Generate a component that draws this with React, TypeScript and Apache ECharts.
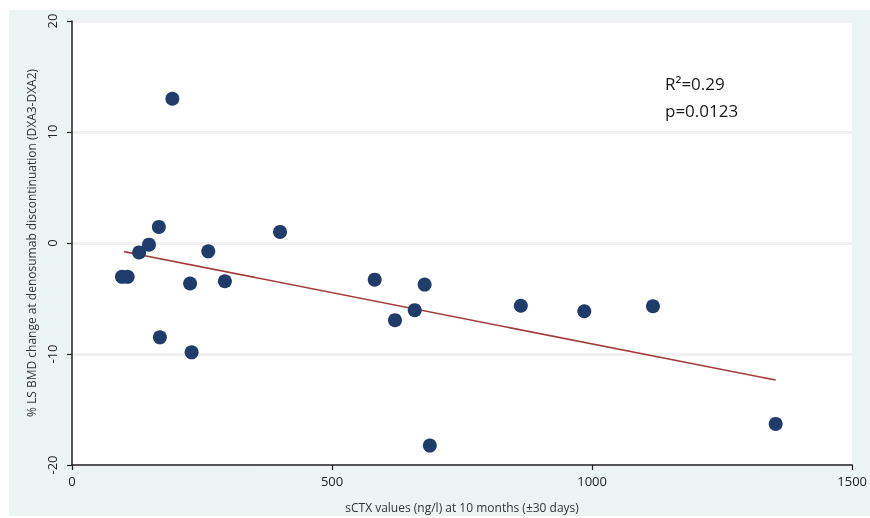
import React, { useEffect, useRef } from "react";
import * as echarts from "echarts";

const sctx: number[] = [96, 107, 129, 148, 167, 169, 193, 227, 230, 262, 294, 400, 582, 621, 659, 678, 688, 863, 985, 1117, 1353];
const bmdChange: number[] = [-3.05, -3.05, -0.85, -0.15, 1.45, -8.5, 13.0, -3.65, -9.85, -0.75, -3.45, 1.0, -3.3, -6.95, -6.05, -3.75, -18.25, -5.65, -6.15, -5.7, -16.3];
const trendX: number[] = [100, 1353];
const trendY: number[] = [-0.78, -12.35];
const xTicks = { min: 0, max: 1500, interval: 500 };
const yTicks = { min: -20, max: 20, interval: 10 };
const statsText = ["R²=0.29", "p=0.0123"];

export default function App() {
  const ref = useRef<HTMLDivElement>(null);
  useEffect(() => {
    if (!ref.current) return;
    const chart = echarts.init(ref.current, null, { renderer: "svg", width: 870, height: 518 });
    const font = "'Open Sans', 'Noto Sans', sans-serif";
    chart.setOption({
      animation: false,
      textStyle: { fontFamily: font },
      graphic: [
        {
          type: "rect",
          z: -10,
          shape: { x: 9, y: 10, width: 861, height: 506 },
          style: { fill: "#edf4f4" },
          silent: true,
        },
        {
          type: "text",
          left: 665,
          top: 70,
          z: 10,
          style: {
            text: statsText.join("\n"),
            fontSize: 17,
            lineHeight: 27,
            fill: "#1a1a1a",
            fontFamily: font,
          },
        },
      ],
      grid: {
        left: 72,
        right: 15,
        top: 21,
        bottom: 50,
        show: true,
        backgroundColor: "#ffffff",
        borderWidth: 0,
      },
      xAxis: {
        type: "value",
        min: xTicks.min,
        max: xTicks.max,
        interval: xTicks.interval,
        name: "sCTX values (ng/l) at 10 months (±30 days)",
        nameLocation: "middle",
        nameGap: 36,
        nameTextStyle: { fontSize: 12, color: "#333" },
        axisLine: { show: true, onZero: false, lineStyle: { color: "#222", width: 1.5 } },
        axisTick: { show: true, length: 5, lineStyle: { color: "#222", width: 1.2 } },
        axisLabel: { fontSize: 13, color: "#222", margin: 9, formatter: (v: number) => String(v) },
        splitLine: { show: false },
      },
      yAxis: {
        type: "value",
        min: yTicks.min,
        max: yTicks.max,
        interval: yTicks.interval,
        name: "% LS BMD change at denosumab discontinuation (DXA3-DXA2)",
        nameLocation: "middle",
        nameGap: 34,
        nameRotate: 90,
        nameTextStyle: { fontSize: 12, color: "#333" },
        axisLine: { show: true, onZero: false, lineStyle: { color: "#222", width: 1.5 } },
        axisTick: { show: true, length: 5, lineStyle: { color: "#222", width: 1.2 } },
        axisLabel: { fontSize: 13, color: "#222", rotate: 90, margin: 20, align: "center", verticalAlign: "middle", formatter: (v: number) => String(v) },
        splitLine: { show: true, lineStyle: { color: "#f1f1f1", width: 3 } },
      },
      series: [
        {
          type: "line",
          data: trendX.map((x, i) => [x, trendY[i]]),
          showSymbol: false,
          symbol: "none",
          lineStyle: { color: "#a33b3b", width: 1.6 },
          z: 2,
        },
        {
          type: "scatter",
          data: sctx.map((x, i) => [x, bmdChange[i]]),
          symbolSize: 14,
          itemStyle: { color: "#1f3c6a", opacity: 1 },
          z: 3,
        },
      ],
    });
    return () => chart.dispose();
  }, []);
  return <div ref={ref} style={{ position: "fixed", left: 0, top: 0, width: 870, height: 518 }} />;
}
